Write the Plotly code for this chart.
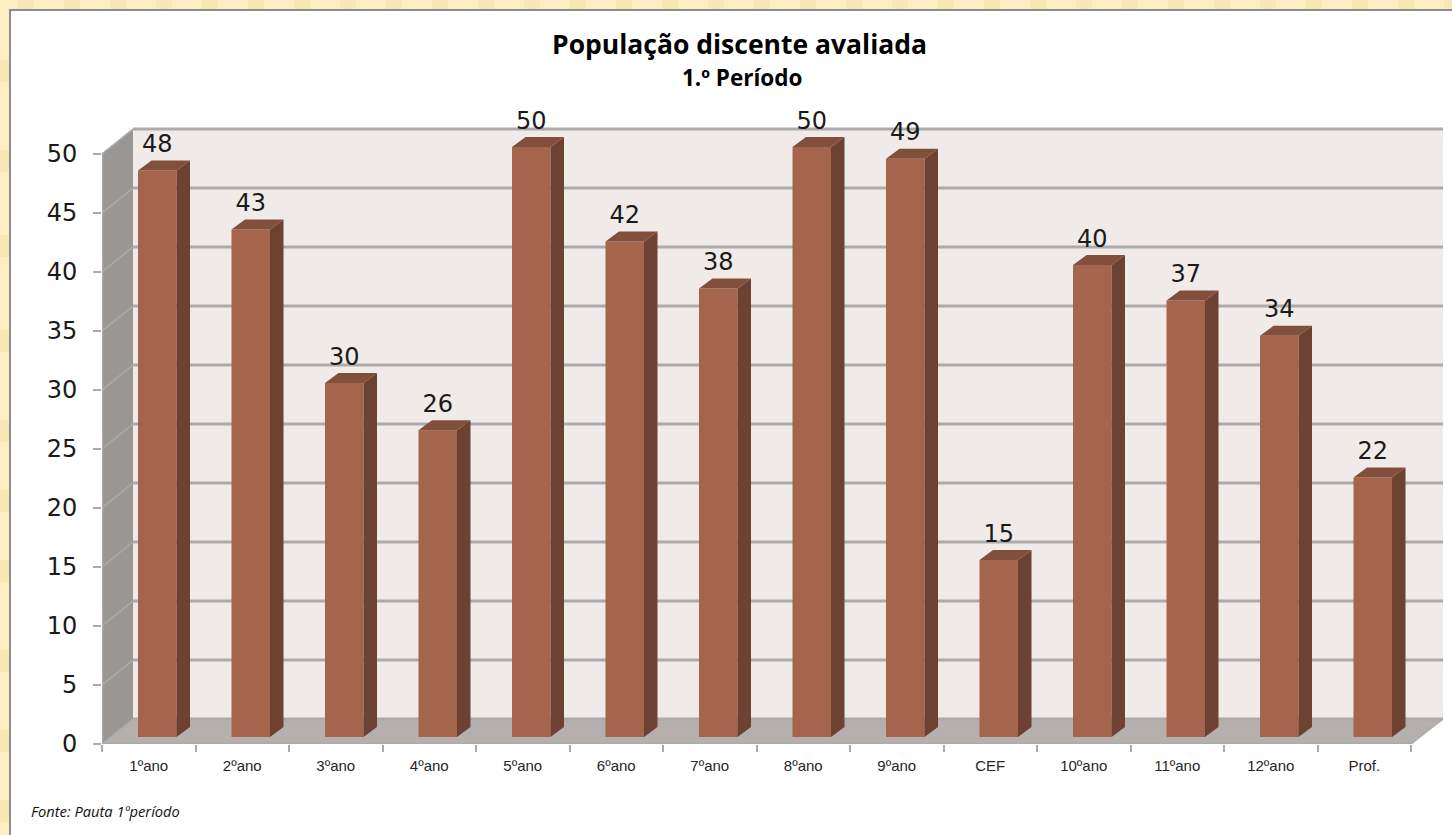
import plotly.graph_objects as go

# ---------- data ----------
categories = ["1ºano", "2ºano", "3ºano", "4ºano", "5ºano", "6ºano", "7ºano",
              "8ºano", "9ºano", "CEF", "10ºano", "11ºano", "12ºano", "Prof."]
values = [48, 43, 30, 26, 50, 42, 38, 50, 49, 15, 40, 37, 34, 22]
y_ticks = [0, 5, 10, 15, 20, 25, 30, 35, 40, 45, 50]
title_main = "População discente avaliada"
title_sub = "1.º Período"
source_note = "Fonte: Pauta 1ºperíodo"

# ---------- geometry of the 3-D look (axis units) ----------
W, H = 1452, 835
L, R, T, B = 102, 1446, 120, 744
WALL_R, WALL_T = 1443, 129
PX_X, PX_Y = 93.5, 11.8
X_MAX = (R - L) / PX_X
Y_MAX = (B - T) / PX_Y
X_WALL = (WALL_R - L) / PX_X
Y_WALL = (B - WALL_T) / PX_Y
N = len(categories)
WALL_DX, WALL_DY = 31 / PX_X, 25 / PX_Y
BAR_LEFT, BAR_W = 36 / PX_X, 38.5 / PX_X
BAR_BASE = 7 / PX_Y
SIDE_DX, SIDE_DY = 13.5 / PX_X, 10 / PX_Y
LABEL_GAP = 2.5 / PX_Y

C_FRONT, C_SIDE, C_TOP = "#A5644C", "#6E4232", "#814F3C"
C_BACK, C_LEFT, C_FLOOR, C_GRID = "#F0EBE8", "#9A9693", "#B5AFAE", "#ABABAB"
C_BG, C_BG2, C_FRAME = "#FCEDC2", "#F7E7B5", "#8C8C8C"

shapes = []


def poly(points, color):
    path = "M " + " L ".join(f"{x} {y}" for x, y in points) + " Z"
    shapes.append(dict(type="path", path=path, xref="x", yref="y", fillcolor=color,
                       line=dict(width=0), layer="below"))


def seg(x0, y0, x1, y1, width=2, color=C_GRID):
    shapes.append(dict(type="line", x0=x0, y0=y0, x1=x1, y1=y1, xref="x", yref="y",
                       line=dict(color=color, width=width), layer="below"))


def px_rect(x0, y0, x1, y1, fill):
    shapes.append(dict(type="rect", xref="paper", yref="paper",
                       x0=(x0 - L) / (R - L), x1=(x1 - L) / (R - L),
                       y0=(B - y1) / (B - T), y1=(B - y0) / (B - T),
                       fillcolor=fill, line=dict(width=0), layer="below"))


# mottled backdrop strips, frame and white sheet
for sx in range(18, W, 46):
    px_rect(sx, 0, sx + 16, 9, C_BG2)
for sy in (60, 150, 235, 330, 420, 490, 560, 650, 730, 800):
    px_rect(0, sy, 9, sy + 22, C_BG2)
px_rect(9, 9, W + 5, H + 5, C_FRAME)
px_rect(11, 11, W + 5, H + 5, "#FFFFFF")

# walls
poly([(WALL_DX, WALL_DY), (WALL_DX, Y_WALL), (X_WALL, Y_WALL), (X_WALL, WALL_DY)], C_BACK)
poly([(0, 0), (WALL_DX, WALL_DY), (WALL_DX, Y_WALL), (0, y_ticks[-1])], C_LEFT)
poly([(0, 0), (WALL_DX, WALL_DY), (X_WALL, WALL_DY), (N, 0)], C_FLOOR)

# gridlines on the back and left walls
for t in y_ticks:
    seg(WALL_DX, t + WALL_DY, X_WALL, t + WALL_DY, width=3)
    seg(0, t, WALL_DX, t + WALL_DY, width=1.5)
seg(N, 0, X_WALL, WALL_DY, width=1.5)

fig = go.Figure()

# front faces
fig.add_trace(go.Bar(
    x=[i + BAR_LEFT + BAR_W / 2 for i in range(N)], y=values, base=BAR_BASE, width=BAR_W,
    marker=dict(color=C_FRONT, line=dict(width=0)), hoverinfo="skip", showlegend=False))

# right-hand and top faces, derived from the values
side_x, side_y, top_x, top_y = [], [], [], []
for i, v in enumerate(values):
    xl = i + BAR_LEFT
    xr = xl + BAR_W
    y0 = BAR_BASE
    y1 = BAR_BASE + v
    side_x += [xr, xr + SIDE_DX, xr + SIDE_DX, xr, xr, None]
    side_y += [y0, y0 + SIDE_DY, y1 + SIDE_DY, y1, y0, None]
    top_x += [xl, xl + SIDE_DX, xr + SIDE_DX, xr, xl, None]
    top_y += [y1, y1 + SIDE_DY, y1 + SIDE_DY, y1, y1, None]
for xs, ys, c in ((side_x, side_y, C_SIDE), (top_x, top_y, C_TOP)):
    fig.add_trace(go.Scatter(x=xs, y=ys, mode="lines", fill="toself", fillcolor=c,
                             line=dict(width=0), hoverinfo="skip", showlegend=False))

# front axis lines
fig.add_trace(go.Scatter(x=[0, 0, N], y=[y_ticks[-1], 0, 0], mode="lines",
                         line=dict(color=C_GRID, width=2.5), cliponaxis=False,
                         hoverinfo="skip", showlegend=False))

# value labels
fig.add_trace(go.Scatter(
    x=[i + BAR_LEFT + BAR_W / 2 for i in range(N)],
    y=[v + BAR_BASE + SIDE_DY + LABEL_GAP for v in values],
    mode="text", text=[str(v) for v in values], textposition="top center",
    textfont=dict(family="DejaVu Sans", size=24, color="#1A1A1A"),
    cliponaxis=False, hoverinfo="skip", showlegend=False))

fig.update_layout(
    width=W, height=H, autosize=False,
    margin=dict(l=L, r=W - R, t=T, b=H - B, pad=0),
    paper_bgcolor=C_BG, plot_bgcolor="rgba(0,0,0,0)",
    shapes=shapes, showlegend=False,
    xaxis=dict(range=[0, X_MAX], showgrid=False, zeroline=False, showline=False,
               tickmode="array", tickvals=[i + 0.5 for i in range(N)], ticktext=categories,
               ticks="", ticklabelstandoff=11,
               tickfont=dict(family="Liberation Sans", size=15, color="#262626"),
               minor=dict(tickmode="array", tickvals=list(range(N + 1)), ticks="outside",
                          ticklen=7, tickwidth=2, tickcolor=C_GRID, showgrid=False),
               fixedrange=True),
    yaxis=dict(range=[0, Y_MAX], showgrid=False, zeroline=False, showline=False,
               tickmode="array", tickvals=y_ticks, ticks="outside", ticklen=8, tickwidth=2,
               tickcolor=C_GRID, ticklabelstandoff=11,
               tickfont=dict(family="DejaVu Sans", size=24, color="#1A1A1A"),
               fixedrange=True),
    annotations=[
        dict(text=f"<b>{title_main}</b>", xref="paper", yref="paper", x=(739.5 - L) / (R - L),
             y=(B - 44) / (B - T), showarrow=False, xanchor="center", yanchor="middle",
             font=dict(family="Open Sans", size=26.5, color="#000000")),
        dict(text=f"<b>{title_sub}</b>", xref="paper", yref="paper", x=(742 - L) / (R - L),
             y=(B - 77) / (B - T), showarrow=False, xanchor="center", yanchor="middle",
             font=dict(family="Open Sans", size=22.5, color="#000000")),
        dict(text=f"<i>{source_note}</i>", xref="paper", yref="paper", x=(29 - L) / (R - L),
             y=(B - 811) / (B - T), showarrow=False, xanchor="left", yanchor="middle",
             font=dict(family="Open Sans", size=14.7, color="#111111")),
    ],
)

fig.write_html("out.html", config=dict(displayModeBar=False),
               post_script="document.body.style.margin='0';document.documentElement.style.overflow='hidden';")
